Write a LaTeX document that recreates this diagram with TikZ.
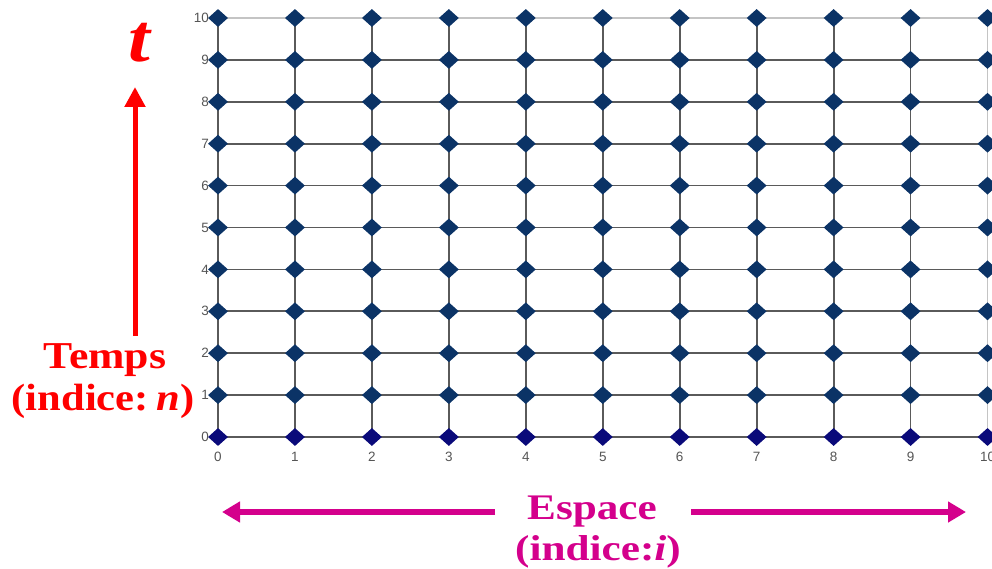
\documentclass[tikz,border=0pt]{standalone}
\usepackage{fontspec}
\setmainfont{Liberation Serif}
\newfontfamily\ticksfont{Liberation Sans}
\usetikzlibrary{shapes.geometric,arrows.meta}
\definecolor{gridnavy}{HTML}{0B3366}
\definecolor{basenavy}{HTML}{0A0A7A}
\definecolor{gridline}{HTML}{5A5A5A}
\definecolor{gridlight}{HTML}{C4C4C4}
\definecolor{ticktext}{HTML}{555555}
\definecolor{espacemag}{RGB}{212,0,140}
% widen a label horizontally
\newcommand\widetext[2]{\scalebox{#1}[1]{#2}}
\tikzset{
  x=1pt, y=-1pt,
  meshline/.style={draw=gridline, line width=1.8pt},
  meshlight/.style={draw=gridlight, line width=1.8pt},
  meshpoint/.style={diamond, fill=gridnavy, draw=none, inner sep=0pt,
                    minimum width=20pt, minimum height=18pt},
  basepoint/.style={meshpoint, fill=basenavy},
  ticklabel/.style={font=\ticksfont\fontsize{13.5}{15}\selectfont, text=ticktext, inner sep=1pt},
  redlabel/.style={text=red, font=\bfseries\fontsize{38}{42}\selectfont, inner sep=0pt},
  maglabel/.style={text=espacemag, font=\bfseries\fontsize{36}{40}\selectfont, inner sep=0pt},
  redarrow/.style={draw=red, line width=5pt, -{Triangle[length=20pt,width=20pt]}},
  magarrow/.style={draw=espacemag, line width=6pt, -{Triangle[length=18pt,width=20pt]}},
}
\begin{document}
\begin{tikzpicture}
\useasboundingbox (0,0) rectangle (992,569);
% mesh coordinates: column i, time level n
\foreach \i in {0,...,10}{
  \foreach \n in {0,...,10}{
    \coordinate (p-\i-\n) at ({218+76.95*\i},{437-41.9*\n});
  }
}
% horizontal mesh lines
\foreach \n in {0,...,9}{
  \draw[meshline] (p-0-\n) -- (p-10-\n);
}
\draw[meshlight] (p-0-10) -- (p-10-10);
% vertical mesh lines
\foreach \i in {0,...,9}{
  \draw[meshline] (p-\i-0) -- (p-\i-10);
}
\draw[meshlight] (p-10-0) -- (p-10-10);
% grid points
\foreach \i in {0,...,10}{
  \node[basepoint] (d-\i-0) at (p-\i-0) {};
  \foreach \n in {1,...,10}{
    \node[meshpoint] (d-\i-\n) at (p-\i-\n) {};
  }
}
% tick labels
\foreach \n in {0,...,10}{
  \node[ticklabel, anchor=east] (ty-\n) at ([xshift=-8pt]p-0-\n) {\n};
}
\foreach \i in {0,...,10}{
  \node[ticklabel, anchor=north] (tx-\i) at ([yshift=-14pt]p-\i-0) {\i};
}
% time axis
\node[text=red, font=\bfseries\itshape\fontsize{68}{72}\selectfont, inner sep=0pt, anchor=base] (tlab) at (139,62) {\widetext{1.15}{t}};
\coordinate (tbot) at (135,336);
\coordinate (ttop) at (135,87);
\draw[redarrow] (tbot) -- (ttop);
\node[redlabel, anchor=base] (temps) at (105,368) {\widetext{1.15}{Temps}};
\node[redlabel, anchor=base] (tidx) at (103,410) {\widetext{1.12}{(indice:\hspace{0.18em}\textit{n})}};
% space axis
\node[maglabel, anchor=base] (esp) at (592,519) {\widetext{1.2}{Espace}};
\node[maglabel, anchor=base] (eidx) at (598,560) {\widetext{1.2}{(indice:\textit{i})}};
\coordinate (eleft) at (222,512);
\coordinate (eright) at (966,512);
\draw[magarrow] ([xshift=-32pt]esp.west |- eleft) -- (eleft);
\draw[magarrow] ([xshift=34pt]esp.east |- eright) -- (eright);
\end{tikzpicture}
\end{document}
